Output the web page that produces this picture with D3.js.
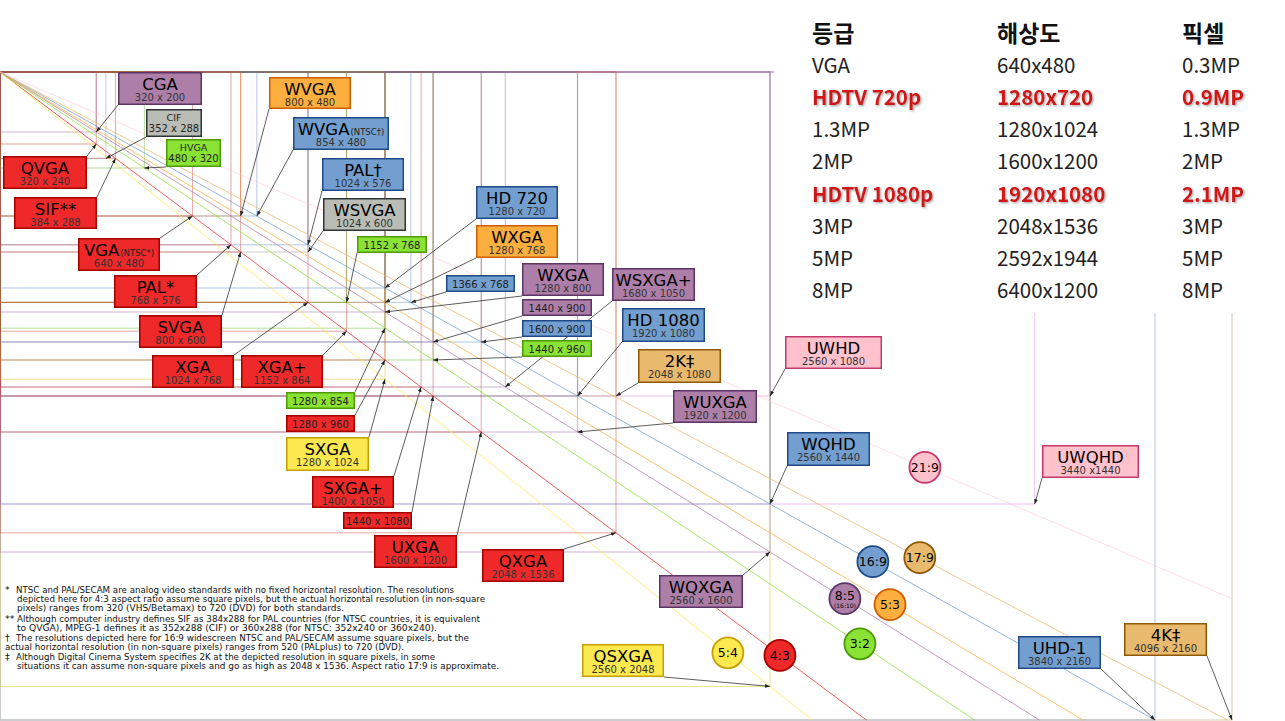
<!DOCTYPE html>
<html><head><meta charset="utf-8">
<script src="https://cdn.jsdelivr.net/npm/d3@7"></script>
<style>body{margin:0;background:#fff;} svg{display:block}</style>
</head><body><svg id="c" width="1285" height="721"></svg>
<script>
// ---------- DATA ----------
const aspectRatios   = ["4:3","5:4","3:2","8:5","5:3","16:9","17:9","21:9"];
const ratioNumer     = [4,5,3,8,5,16,17,21];
const ratioDenom     = [3,4,2,5,3,9,9,9];
const ratioLabelAtW  = [2593,2420,2859,2809,2959,2902,3058,3075]; // width (px of standard) where the ratio badge sits on its line

const resNames   = ["CGA","QVGA","CIF","SIF**","HVGA","VGA","WVGA","WVGA","PAL*","SVGA","PAL†","WSVGA","XGA","","XGA+","HD 720","WXGA","","WXGA","","","SXGA","","","","SXGA+","","WSXGA+","HD 1080","2K‡","UXGA","WUXGA","UWHD","WQHD","UWQHD","QXGA","WQXGA","QSXGA","UHD-1","4K‡"];
const resNotes   = ["","","","","","(NTSC*)","","(NTSC†)","","","","","","","","","","","","","","","","","","","","","","","","","","","","","","","",""];
const resWidths  = [320,320,352,384,480,640,800,854,768,800,1024,1024,1024,1152,1152,1280,1280,1366,1280,1280,1280,1280,1440,1600,1440,1400,1440,1680,1920,2048,1600,1920,2560,2560,3440,2048,2560,2560,3840,4096];
const resHeights = [200,240,288,288,320,480,480,480,576,600,576,600,768,768,864,720,768,768,800,854,960,1024,900,900,960,1050,1080,1050,1080,1080,1200,1200,1080,1440,1440,1536,1600,2048,2160,2160];
const resGroups  = ["8:5","4:3","other","4:3","3:2","4:3","5:3","16:9","4:3","4:3","16:9","other","4:3","3:2","4:3","16:9","5:3","16:9","8:5","3:2","4:3","5:4","8:5","16:9","3:2","4:3","4:3","8:5","16:9","17:9","4:3","8:5","21:9","16:9","21:9","4:3","8:5","5:4","16:9","17:9"];
const resLabels  = resWidths.map((w,i)=> (i===34 ? "3440 x1440" : w+" x "+resHeights[i]));

const tableHeaders = ["등급","해상도","픽셀"];
const tableGrades  = ["VGA","HDTV 720p","1.3MP","2MP","HDTV 1080p","3MP","5MP","8MP"];
const tableRes     = ["640x480","1280x720","1280x1024","1600x1200","1920x1080","2048x1536","2592x1944","6400x1200"];
const tablePixels  = ["0.3MP","0.9MP","1.3MP","2MP","2.1MP","3MP","5MP","8MP"];
const tableHighlight = [false,true,false,false,true,false,false,false];

const footMarks = ["*","","","**","","†","","‡",""];
const footLines = [
 "NTSC and PAL/SECAM are analog video standards with no fixed horizontal resolution. The resolutions",
 "depicted here for 4:3 aspect ratio assume square pixels, but the actual horizontal resolution (in non-square",
 "pixels) ranges from 320 (VHS/Betamax) to 720 (DVD) for both standards.",
 "Although computer industry defines SIF as 384x288 for PAL countries (for NTSC countries, it is equivalent",
 "to QVGA), MPEG-1 defines it as 352x288 (CIF) or 360x288 (for NTSC: 352x240 or 360x240).",
 "The resolutions depicted here for 16:9 widescreen NTSC and PAL/SECAM assume square pixels, but the",
 "actual horizontal resolution (in non-square pixels) ranges from 520 (PALplus) to 720 (DVD).",
 "Although Digital Cinema System specifies 2K at the depicted resolution in square pixels, in some",
 "situations it can assume non-square pixels and go as high as 2048 x 1536. Aspect ratio 17:9 is approximate."
];

// ---------- LAYOUT / STYLE ----------
const groupFill   = {"4:3":"#ef2929","5:4":"#fce94f","3:2":"#8ae234","8:5":"#ad7fa8","5:3":"#fcaf3e","16:9":"#729fcf","17:9":"#e9b96e","21:9":"#ffc1cc","other":"#babdb6"};
const groupStroke = {"4:3":"#a40000","5:4":"#c4a000","3:2":"#4e9a06","8:5":"#5c3566","5:3":"#ce5c00","16:9":"#204a87","17:9":"#8f5902","21:9":"#c4386c","other":"#2e3436"};
const groupLine   = {"4:3":"#cc3030","5:4":"#d8b800","3:2":"#60b020","8:5":"#8a5a8a","5:3":"#e07a10","16:9":"#5080c0","17:9":"#b08040","21:9":"#e070e0","other":"#888a85"};
const labelBoxes = [
 [118,72,84,33],[3,156,84,33],[146,109,56,28],[14,197,83,32],[166,139,55,28],
 [78,238,82,33],[269,77,82,32],[293,117,96,33],[114,275,83,33],[139,315,83,33],
 [322,158,82,33],[323,198,83,33],[152,355,82,33],[357,236,70,17],[241,355,82,33],
 [476,186,82,33],[476,225,82,33],[446,275,69,17],[522,263,82,33],[286,392,69,17],
 [286,415,69,17],[286,437,83,34],[522,299,70,17],[522,320,70,17],[522,340,70,17],
 [312,476,82,32],[343,512,69,17],[612,268,83,33],[622,308,83,34],[638,349,83,34],
 [374,535,83,33],[673,390,84,33],[785,336,97,33],[787,432,83,34],[1042,445,97,33],
 [482,549,82,33],[659,575,84,33],[582,644,82,33],[1018,636,83,33],[1124,623,83,33]
];
const footLayout = [[5,16,454,593],[5,17,485,602],[5,17,344,611],[5,17,480,622],[5,17,437,631],[5,16,469,641],[5,5,404,650],[5,16,435,660],[5,17,499,669]];

// ---------- SCALES ----------
const x = d3.scaleLinear().domain([0,4096]).range([0,1232]);
const y = d3.scaleLinear().domain([0,2160]).range([72,720]);

const svg = d3.select("#c");
const FONT = "'DejaVu Sans', Verdana, sans-serif";
const defs = svg.append("defs");
defs.append("marker").attr("id","ah").attr("viewBox","0 0 8 6").attr("refX",8).attr("refY",3)
  .attr("markerWidth",5).attr("markerHeight",4).attr("markerUnits","userSpaceOnUse").attr("orient","auto")
  .append("path").attr("d","M0,0 L8,3 L0,6 Z").attr("fill","#222");
const f = defs.append("filter").attr("id","shadow").attr("x","-10%").attr("y","-20%").attr("width","130%").attr("height","150%");
f.append("feDropShadow").attr("dx",1.2).attr("dy",1.2).attr("stdDeviation",0.9).attr("flood-color","#777").attr("flood-opacity",0.7);

const idx = d3.range(resNames.length);

// resolution rectangles (outline)
const order = idx.slice().sort((a,b)=> resWidths[b]*resHeights[b]-resWidths[a]*resHeights[a]);
svg.append("g").selectAll("rect").data(order).join("rect")
  .attr("x",x(0)).attr("y",y(0))
  .attr("width",i=>x(resWidths[i])-x(0)).attr("height",i=>y(resHeights[i])-y(0))
  .attr("fill","none").attr("stroke",i=>groupLine[resGroups[i]])
  .attr("stroke-opacity",0.4).attr("stroke-width",1.1);

// aspect ratio diagonals
const ends = aspectRatios.map((r,k)=>{
  const rr = ratioNumer[k]/ratioDenom[k];
  return (2160*rr<=4096) ? [2160*rr,2160] : [4096,4096/rr];
});
svg.append("g").selectAll("line").data(aspectRatios).join("line")
  .attr("x1",x(0)).attr("y1",y(0))
  .attr("x2",(d,k)=>x(ends[k][0])).attr("y2",(d,k)=>y(ends[k][1]))
  .attr("stroke",d=>groupFill[d]).attr("stroke-opacity",d=> d==="21:9"?0.5:0.75).attr("stroke-width",1);

// white background for table
svg.append("rect").attr("x",774).attr("y",0).attr("width",511).attr("height",313).attr("fill","#fff");

// arrows
function anchor(i){
  const b = labelBoxes[i], tx = x(resWidths[i]), ty = y(resHeights[i]);
  const corners = [[b[0],b[1]],[b[0]+b[2],b[1]],[b[0],b[1]+b[3]],[b[0]+b[2],b[1]+b[3]]];
  let best = corners[0], bd = 1e9;
  corners.forEach(c=>{const d=(c[0]-tx)**2+(c[1]-ty)**2; if(d<bd){bd=d;best=c;}});
  return best;
}
svg.append("g").selectAll("line").data(idx).join("line")
  .attr("x1",i=>anchor(i)[0]).attr("y1",i=>anchor(i)[1])
  .attr("x2",i=>x(resWidths[i])).attr("y2",i=>y(resHeights[i]))
  .attr("stroke","#333").attr("stroke-width",0.8).attr("marker-end","url(#ah)");

// label boxes
const boxes = svg.append("g").selectAll("g").data(idx).join("g");
boxes.append("rect")
  .attr("x",i=>labelBoxes[i][0]+0.75).attr("y",i=>labelBoxes[i][1]+0.75)
  .attr("width",i=>labelBoxes[i][2]-1.5).attr("height",i=>labelBoxes[i][3]-1.5)
  .attr("fill",i=>groupFill[resGroups[i]]).attr("stroke",i=>groupStroke[resGroups[i]]).attr("stroke-width",1.5);
boxes.each(function(i){
  const g = d3.select(this), b = labelBoxes[i], cx = b[0]+b[2]/2;
  if(resNames[i]===""){
    g.append("text").attr("x",cx).attr("y",b[1]+12.5).attr("text-anchor","middle")
      .attr("font-family",FONT).attr("font-size",10).attr("fill","#222").text(resLabels[i]);
  } else if(b[3]<30){
    g.append("text").attr("x",cx).attr("y",b[1]+11.5).attr("text-anchor","middle")
      .attr("font-family",FONT).attr("font-size",9.5).attr("fill","#222").text(resNames[i]);
    g.append("text").attr("x",cx).attr("y",b[1]+23).attr("text-anchor","middle")
      .attr("font-family",FONT).attr("font-size",10).attr("fill","#222").text(resLabels[i]);
  } else {
    const t = g.append("text").attr("x",cx).attr("y",b[1]+17.5).attr("text-anchor","middle")
      .attr("font-family",FONT).attr("font-size",16.5).attr("fill","#000");
    t.append("tspan").text(resNames[i]);
    if(resNotes[i]) t.append("tspan").attr("font-size",8.5).attr("fill","#222").attr("dx",1).text(resNotes[i]);
    g.append("text").attr("x",cx).attr("y",b[1]+29).attr("text-anchor","middle")
      .attr("font-family",FONT).attr("font-size",10).attr("fill","#333").text(resLabels[i]);
  }
});

// aspect ratio badges
const badges = svg.append("g").selectAll("g").data(aspectRatios).join("g")
  .attr("transform",(d,k)=>`translate(${x(ratioLabelAtW[k])},${y(ratioLabelAtW[k]*ratioDenom[k]/ratioNumer[k])})`);
badges.append("circle").attr("r",15.5).attr("fill",d=>groupFill[d]).attr("stroke",d=>groupStroke[d]).attr("stroke-width",1.8);
badges.each(function(d){
  const g = d3.select(this);
  if(d==="8:5"){
    g.append("text").attr("y",1.5).attr("text-anchor","middle").attr("font-family",FONT).attr("font-size",12.5).text(d);
    g.append("text").attr("y",9).attr("text-anchor","middle").attr("font-family",FONT).attr("font-size",6).text("(16:10)");
  } else {
    g.append("text").attr("y",4.5).attr("text-anchor","middle").attr("font-family",FONT).attr("font-size",12.5).text(d);
  }
});

// footnotes
const fn = svg.append("g").attr("font-family",FONT).attr("font-size",9.5).attr("fill","#111");
footLines.forEach((t,k)=>{
  const L = footLayout[k];
  if(footMarks[k]) fn.append("text").attr("x",L[0]).attr("y",L[3]).text(footMarks[k]);
  fn.append("text").attr("x",L[1]).attr("y",L[3]).attr("textLength",L[2]-L[1]).attr("lengthAdjust","spacingAndGlyphs").text(t);
});

// Korean table
const colX = [812,997,1182];
const TF = "'Noto Sans CJK KR','Noto Sans',sans-serif";
const tg = svg.append("g").attr("font-family",TF);
tableHeaders.forEach((h,c)=>{
  tg.append("text").attr("x",colX[c]).attr("y",42).attr("font-size",23).attr("font-weight","bold").attr("fill","#111").text(h);
});
const cols = [tableGrades, tableRes, tablePixels];
tableGrades.forEach((g,r)=>{
  cols.forEach((col,c)=>{
    const t = tg.append("text").attr("x",colX[c]).attr("y",73+r*32.15).attr("font-size",20.5).text(col[r]);
    if(tableHighlight[r]) t.attr("font-weight","bold").attr("fill","#d01515").attr("filter","url(#shadow)");
    else t.attr("fill","#222");
  });
});
</script></body></html>
